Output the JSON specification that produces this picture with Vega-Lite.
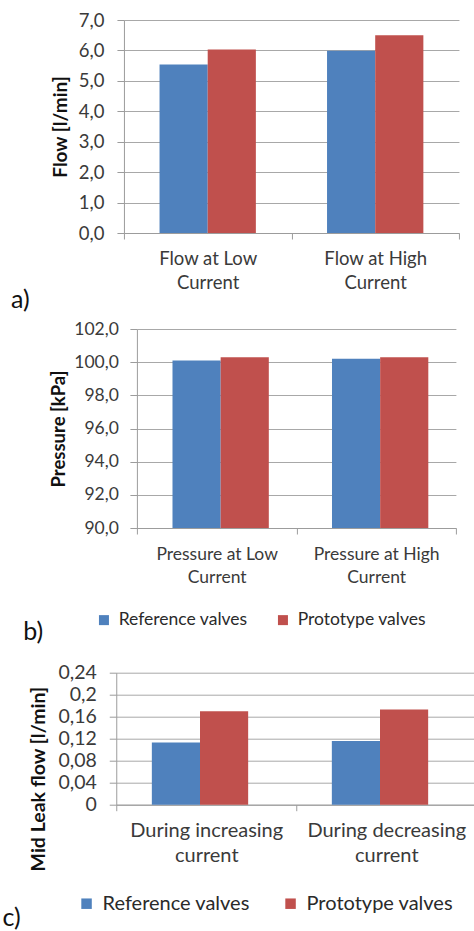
{
  "$schema": "https://vega.github.io/schema/vega-lite/v6.json",
  "padding": {"left": 2, "top": 11, "right": 0, "bottom": 0},
  "datasets": {
    "flow": [
      {"condition": "Flow at Low Current", "valve": "Reference valves", "value": 5.54},
      {"condition": "Flow at Low Current", "valve": "Prototype valves", "value": 6.03},
      {"condition": "Flow at High Current", "valve": "Reference valves", "value": 5.99},
      {"condition": "Flow at High Current", "valve": "Prototype valves", "value": 6.5}
    ],
    "pressure": [
      {"condition": "Pressure at Low Current", "valve": "Reference valves", "value": 100.1},
      {"condition": "Pressure at Low Current", "valve": "Prototype valves", "value": 100.3},
      {"condition": "Pressure at High Current", "valve": "Reference valves", "value": 100.2},
      {"condition": "Pressure at High Current", "valve": "Prototype valves", "value": 100.3}
    ],
    "leak": [
      {"condition": "During increasing current", "valve": "Reference valves", "value": 0.113},
      {"condition": "During increasing current", "valve": "Prototype valves", "value": 0.17},
      {"condition": "During decreasing current", "valve": "Reference valves", "value": 0.116},
      {"condition": "During decreasing current", "valve": "Prototype valves", "value": 0.173}
    ]
  },
  "config": {
    "locale": {"number": {"decimal": ",", "thousands": ".", "grouping": [3], "currency": ["", " €"]}},
    "font": "Lato",
    "view": {"stroke": null},
    "axis": {
      "domainColor": "#9C9C9C",
      "tickColor": "#9C9C9C",
      "gridColor": "#A8A8A8",
      "labelColor": "#3A3A3A",
      "titleColor": "#111111",
      "labelFont": "Lato",
      "titleFont": "Lato",
      "titleFontWeight": "bold"
    },
    "axisX": {"grid": false, "tickBand": "extent", "labelAngle": 0, "tickSize": 6, "title": null},
    "axisY": {"grid": true},
    "legend": {
      "labelFont": "Lato",
      "labelColor": "#2A2A2A",
      "symbolType": "square",
      "symbolStrokeWidth": 0,
      "labelOffset": 6,
      "title": null
    },
    "title": {"font": "Lato", "fontWeight": "normal", "color": "#111111", "fontSize": 25}
  },
  "center": true,
  "align": "each",
  "spacing": 17.7,
  "resolve": {"scale": {"color": "independent"}, "legend": {"color": "independent"}},
  "vconcat": [
    {
      "center": true,
      "align": "each",
      "spacing": 7,
      "resolve": {"scale": {"color": "independent"}, "legend": {"color": "independent"}},
      "vconcat": [
        {
          "width": 345.4,
          "height": 213,
          "data": {"name": "flow"},
          "title": {"text": "a)", "orient": "bottom", "anchor": "start", "frame": "group", "dx": -113, "offset": -4},
          "mark": {"type": "bar"},
          "encoding": {
            "x": {
              "field": "condition", "type": "nominal", "sort": null,
              "scale": {"paddingInner": 0, "paddingOuter": 0, "range": [0, 335]},
              "axis": {
                "labelFontSize": 18.5, "labelLineHeight": 24, "labelPadding": 10,
                "labelExpr": "[slice(datum.label, 0, lastindexof(datum.label, ' ')), slice(datum.label, lastindexof(datum.label, ' ') + 1)]"
              }
            },
            "xOffset": {
              "field": "valve", "type": "nominal", "sort": ["Reference valves", "Prototype valves"],
              "scale": {"paddingInner": 0, "paddingOuter": 0.739}
            },
            "y": {
              "field": "value", "type": "quantitative",
              "scale": {"domain": [0, 7], "nice": false},
              "axis": {
                "title": "Flow [l/min]", "values": [0, 1, 2, 3, 4, 5, 6, 7], "format": ".1f",
                "labelFontSize": 18.5, "tickSize": 7, "labelPadding": 13,
                "titleFontSize": 19, "titlePadding": 8
              }
            },
            "color": {
              "field": "valve", "type": "nominal",
              "scale": {"domain": ["Reference valves", "Prototype valves"], "range": ["#4F81BD", "#C0504D"]},
              "legend": null
            }
          }
        },
        {
          "width": 319,
          "height": 199,
          "data": {"name": "pressure"},
          "title": {"text": "b)", "orient": "bottom", "anchor": "start", "frame": "group", "dx": -113.7, "offset": -9},
          "mark": {"type": "bar", "clip": true},
          "encoding": {
            "x": {
              "field": "condition", "type": "nominal", "sort": null,
              "scale": {"paddingInner": 0, "paddingOuter": 0},
              "axis": {
                "labelFontSize": 17.5, "labelLineHeight": 23, "labelPadding": 11,
                "labelExpr": "[slice(datum.label, 0, lastindexof(datum.label, ' ')), slice(datum.label, lastindexof(datum.label, ' ') + 1)]"
              }
            },
            "xOffset": {
              "field": "valve", "type": "nominal", "sort": ["Reference valves", "Prototype valves"],
              "scale": {"paddingInner": 0, "paddingOuter": 0.75}
            },
            "y": {
              "field": "value", "type": "quantitative",
              "scale": {"domain": [90, 102], "nice": false, "zero": false},
              "axis": {
                "title": "Pressure [kPa]", "values": [90, 92, 94, 96, 98, 100, 102], "format": ".1f",
                "labelFontSize": 17.5, "tickSize": 7, "labelPadding": 11.5,
                "titleFontSize": 18.5, "titlePadding": 5
              }
            },
            "color": {
              "field": "valve", "type": "nominal",
              "scale": {"domain": ["Reference valves", "Prototype valves"], "range": ["#4F81BD", "#C0504D"]},
              "legend": {
                "orient": "none", "direction": "horizontal", "legendX": -41.7, "legendY": 282,
                "labelFontSize": 17.5, "symbolSize": 100, "columnPadding": 26
              }
            }
          }
        }
      ]
    },
    {
      "width": 360,
      "height": 132,
      "data": {"name": "leak"},
      "title": {"text": "c)", "orient": "bottom", "anchor": "start", "frame": "group", "dx": -113.7, "offset": -8},
      "mark": {"type": "bar"},
      "encoding": {
        "x": {
          "field": "condition", "type": "nominal", "sort": null,
          "scale": {"paddingInner": 0, "paddingOuter": 0},
          "axis": {
            "labelFontSize": 20, "labelLineHeight": 25, "labelPadding": 10,
            "labelExpr": "[slice(datum.label, 0, lastindexof(datum.label, ' ')), slice(datum.label, lastindexof(datum.label, ' ') + 1)]"
          }
        },
        "xOffset": {
          "field": "valve", "type": "nominal", "sort": ["Reference valves", "Prototype valves"],
          "scale": {"paddingInner": 0, "paddingOuter": 0.74}
        },
        "y": {
          "field": "value", "type": "quantitative",
          "scale": {"domain": [0, 0.24], "nice": false},
          "axis": {
            "title": "Mid Leak flow [l/min]", "values": [0, 0.04, 0.08, 0.12, 0.16, 0.2, 0.24], "format": ".2~f",
            "labelFontSize": 19.5, "tickSize": 7, "labelPadding": 13,
            "titleFontSize": 19.5, "titlePadding": 9, "titleY": 106
          }
        },
        "color": {
          "field": "valve", "type": "nominal",
          "scale": {"domain": ["Reference valves", "Prototype valves"], "range": ["#4F81BD", "#C0504D"]},
          "legend": {
            "orient": "none", "direction": "horizontal", "legendX": -39.7, "legendY": 221,
            "labelFontSize": 20, "symbolSize": 110, "columnPadding": 30
          }
        }
      }
    }
  ]
}
